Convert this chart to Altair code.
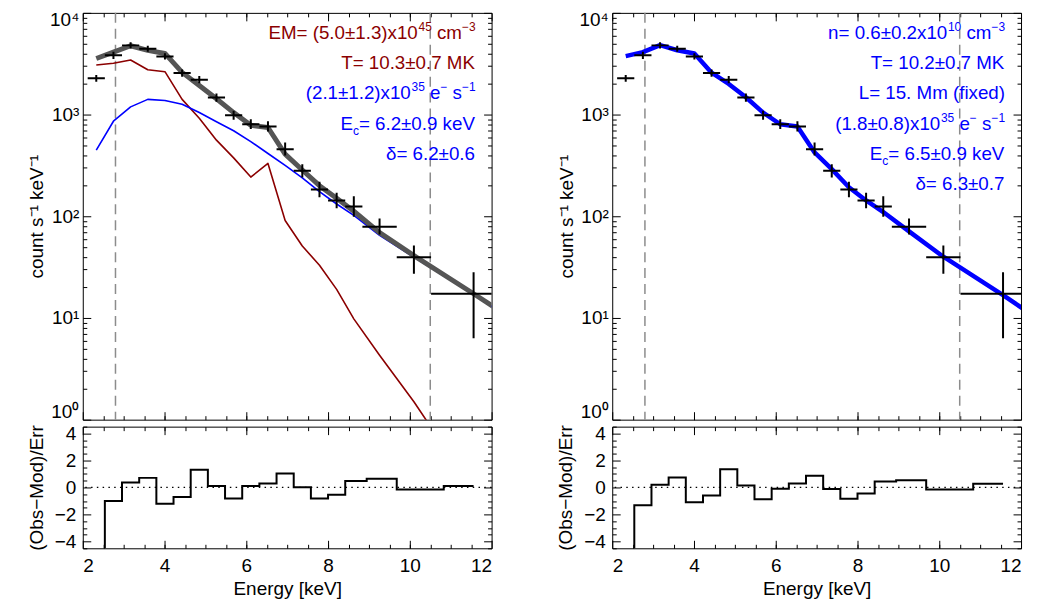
import altair as alt
import pandas as pd

# ---------------- data ----------------
energy = [2.33, 2.75, 3.17, 3.59, 4.01, 4.43, 4.85, 5.27, 5.69, 6.11, 6.53,
          6.95, 7.37, 7.79, 8.21, 8.63, 9.26, 10.10, 11.56]
e_lo = [2.12, 2.54, 2.96, 3.38, 3.80, 4.22, 4.64, 5.06, 5.48, 5.90, 6.32,
        6.74, 7.16, 7.58, 8.00, 8.42, 8.84, 9.68, 10.52]
e_hi = [2.54, 2.96, 3.38, 3.80, 4.22, 4.64, 5.06, 5.48, 5.90, 6.32, 6.74,
        7.16, 7.58, 8.00, 8.42, 8.84, 9.68, 10.52, 12.60]
counts = [2270, 3820, 4790, 4440, 3730, 2560, 2200, 1470, 985, 805, 764,
          457, 280, 183, 143, 125, 79, 39.6, 17.3]
counts_lo = [2100, 3520, 4470, 4140, 3480, 2360, 2030, 1340, 890, 720, 680,
             395, 241, 154, 120, 99, 66, 27.2, 6.3]
counts_hi = [2450, 4140, 5130, 4760, 4000, 2780, 2390, 1610, 1090, 900, 860,
             530, 325, 218, 170, 157, 95, 51.5, 28.2]

model_energy = [2.33, 2.75, 3.17, 3.59, 4.01, 4.43, 4.85, 5.27, 5.69, 6.11, 6.53,
                6.95, 7.37, 7.79, 8.21, 8.63, 9.26, 10.10, 11.56, 12.60]
left_thermal = [3070, 3190, 3440, 2760, 2640, 1410, 920, 560, 375, 243, 331,
                91, 51, 33, 19.1, 9.8, 4.3, 1.5, 0.2, 0.07]
left_nonthermal = [447, 860, 1190, 1410, 1375, 1265, 1047, 851, 693, 542, 414,
                   316, 238, 175, 132, 102, 65, 39.6, 17.0, 9.0]
left_total = [3560, 4110, 4750, 4280, 3990, 2600, 1930, 1430, 1046, 785, 746,
              408, 285, 200, 150, 112, 69, 41, 17.3, 9.2]
right_total = [3760, 4110, 4820, 4290, 3990, 2580, 2000, 1480, 1046, 803, 764,
               424, 291, 193, 143, 110, 71, 40, 16.8, 8.7]

left_resid = [-6.5, -1.0, 0.37, 0.71, -1.2, -0.71, 1.32, 0.1, -0.81, 0.1, 0.29,
              1.03, 0.02, -0.81, -0.54, 0.47, 0.64, -0.15, 0.1]
right_resid = [-6.5, -1.32, 0.2, 0.74, -1.1, -0.59, 1.35, 0.15, -0.88, -0.1, 0.29,
               0.86, -0.12, -0.83, -0.44, 0.44, 0.54, -0.15, 0.27]

fit_range = [2.8, 10.5]

x_major = [2, 4, 6, 8, 10, 12]
x_minor = [2.5, 3, 3.5, 4, 4.5, 5, 5.5, 6, 6.5, 7, 7.5, 8, 8.5, 9, 9.5, 10,
           10.5, 11, 11.5]
y_log_major = [1, 10, 100, 1000, 10000]
y_log_minor = [2, 3, 4, 5, 6, 7, 8, 9, 20, 30, 40, 50, 60, 70, 80, 90,
               200, 300, 400, 500, 600, 700, 800, 900,
               2000, 3000, 4000, 5000, 6000, 7000, 8000, 9000]
res_major = [-4, -2, 0, 2, 4]
res_minor = [-4.5, -3.5, -3, -2.5, -1.5, -1, -0.5, 0.5, 1, 1.5, 2.5, 3, 3.5, 4.5]

left_lines = [
    ("#8b0000", [("EM= (5.0±1.3)x10", "n"), ("45", "s"), (" cm", "n"), ("−3", "s")]),
    ("#8b0000", [("T= 10.3±0.7 MK", "n")]),
    ("#0000ff", [("(2.1±1.2)x10", "n"), ("35", "s"), (" e", "n"), ("−", "s"),
                 (" s", "n"), ("−1", "s")]),
    ("#0000ff", [("E", "n"), ("c", "b"), ("= 6.2±0.9 keV", "n")]),
    ("#0000ff", [("δ= 6.2±0.6", "n")]),
]
right_lines = [
    ("#0000ff", [("n= 0.6±0.2x10", "n"), ("10", "s"), (" cm", "n"), ("−3", "s")]),
    ("#0000ff", [("T= 10.2±0.7 MK", "n")]),
    ("#0000ff", [("L= 15. Mm (fixed)", "n")]),
    ("#0000ff", [("(1.8±0.8)x10", "n"), ("35", "s"), (" e", "n"), ("−", "s"),
                 (" s", "n"), ("−1", "s")]),
    ("#0000ff", [("E", "n"), ("c", "b"), ("= 6.5±0.9 keV", "n")]),
    ("#0000ff", [("δ= 6.3±0.7", "n")]),
]

# ---------------- styling / layout ----------------
FONT = "Liberation Sans"
MAIN_FS = 18.8
SUP_FS = 12
W_PANEL = 410
H_TOP = 408
H_RES = 122
TOP_PAGE_Y = 10      # page y of the top plot edge
TEXT_RIGHT = 394
BASE0 = 36 - TOP_PAGE_Y
LINE_DY = 30.4

ARIAL_W = {' ': 278, '(': 333, ')': 333, '.': 278, '=': 584, '±': 584, 'x': 500,
           'c': 500, 'm': 833, 'e': 556, 's': 500, '−': 584, 'E': 667, 'M': 833,
           'K': 667, 'T': 611, 'k': 500, 'V': 667, 'n': 556, 'L': 556, 'f': 278,
           'i': 222, 'd': 556, 'δ': 556}


def tw(s, fs):
    return sum(ARIAL_W.get(ch, 556) for ch in s) * fs / 1000.0


def text_frame(lines):
    rows = []
    for i, (col, segs) in enumerate(lines):
        sizes = [MAIN_FS if k == "n" else SUP_FS for _, k in segs]
        widths = [tw(t, fs) for (t, _), fs in zip(segs, sizes)]
        x = TEXT_RIGHT - sum(widths)
        base = BASE0 + i * LINE_DY
        for (t, k), fs, w in zip(segs, sizes, widths):
            lead = len(t) - len(t.lstrip(" "))
            xx = x + tw(" " * lead, fs)
            yy = base - 8 if k == "s" else (base + 5 if k == "b" else base)
            rows.append(dict(t=t.strip(" "), px=xx, py=yy, fs=fs, col=col))
            x += w
    return pd.DataFrame(rows)


x_scale = alt.Scale(domain=[2, 12], nice=False, zero=False)
y_log = alt.Scale(type="log", domain=[1, 10000], nice=False)
y_res = alt.Scale(domain=[-4.5, 4.5], nice=False, zero=False)


def ax(orient, values, size, **kw):
    d = dict(orient=orient, values=values, tickSize=size, offset=-size,
             domain=False, grid=False, ticks=True, tickColor="black",
             tickWidth=1, labels=False, title="")
    d.update(kw)
    return alt.Axis(**d)


def axis_layers(yscale, ydomain, xaxes, yaxes):
    df = pd.DataFrame({"x": [2, 12], "y": ydomain})
    layers = []
    for xa, ya in zip(xaxes, yaxes):
        layers.append(
            alt.Chart(df).mark_point(opacity=0).encode(
                x=alt.X("x:Q", scale=x_scale, axis=xa),
                y=alt.Y("y:Q", scale=yscale, axis=ya),
            )
        )
    return layers


LOG_LABEL = "'10' + ['⁰','¹','²','³','⁴'][round(log(datum.value)/LN10)]"


def top_chart(models, lines):
    data = pd.DataFrame({"e": energy, "lo": e_lo, "hi": e_hi, "c": counts,
                         "clo": counts_lo, "chi": counts_hi})
    mdf = pd.DataFrame({"e": model_energy})
    layers = []
    layers.append(
        alt.Chart(pd.DataFrame({"e": fit_range})).mark_rule(
            color="#8c8c8c", strokeDash=[10, 6], strokeWidth=1.5
        ).encode(x=alt.X("e:Q", scale=x_scale, axis=None))
    )
    for vals, color, width in models:
        d = mdf.assign(v=vals)
        layers.append(
            alt.Chart(d).mark_line(color=color, strokeWidth=width, clip=True,
                                   strokeJoin="round").encode(
                x=alt.X("e:Q", scale=x_scale, axis=None),
                y=alt.Y("v:Q", scale=y_log, axis=None),
            )
        )
    layers.append(
        alt.Chart(data).mark_rule(color="black", strokeWidth=2, clip=True).encode(
            x=alt.X("lo:Q", scale=x_scale, axis=None), x2="hi:Q",
            y=alt.Y("c:Q", scale=y_log, axis=None),
        )
    )
    layers.append(
        alt.Chart(data).mark_rule(color="black", strokeWidth=2, clip=True).encode(
            x=alt.X("e:Q", scale=x_scale, axis=None),
            y=alt.Y("clo:Q", scale=y_log, axis=None), y2="chi:Q",
        )
    )
    layers.append(
        alt.Chart(text_frame(lines)).mark_text(align="left", baseline="alphabetic",
                                               font=FONT).encode(
            x=alt.X("px:Q", scale=None, axis=None),
            y=alt.Y("py:Q", scale=None, axis=None),
            text="t:N",
            color=alt.Color("col:N", scale=None),
            size=alt.Size("fs:Q", scale=None),
        )
    )
    xaxes = [ax("bottom", x_major, 8), ax("bottom", x_minor, 4),
             ax("top", x_major, 8), ax("top", x_minor, 4)]
    yaxes = [ax("left", y_log_major, 8, labels=True, labelExpr=LOG_LABEL,
                labelPadding=4, labelFlush=True, labelFlushOffset=2,
                title="count s⁻¹ keV⁻¹", titlePadding=3),
             ax("left", y_log_minor, 4), ax("right", y_log_major, 8),
             ax("right", y_log_minor, 4)]
    layers += axis_layers(y_log, [1, 10000], xaxes, yaxes)
    return alt.layer(*layers).resolve_axis(x="independent", y="independent").properties(
        width=W_PANEL, height=H_TOP)


def res_chart(resid):
    d = pd.DataFrame({"e": energy, "r": resid})
    layers = [
        alt.Chart(pd.DataFrame({"z": [0]})).mark_rule(
            color="black", strokeDash=[1.5, 4.3], strokeWidth=1.2
        ).encode(y=alt.Y("z:Q", scale=y_res, axis=None)),
        alt.Chart(d).mark_line(interpolate="step", clip=True, color="black",
                               strokeWidth=2).encode(
            x=alt.X("e:Q", scale=x_scale, axis=None),
            y=alt.Y("r:Q", scale=y_res, axis=None),
        ),
    ]
    xaxes = [ax("bottom", x_major, 8, labels=True, labelPadding=8,
                title="Energy [keV]", titlePadding=4),
             ax("bottom", x_minor, 4), ax("top", x_major, 8), ax("top", x_minor, 4)]
    yaxes = [ax("left", res_major, 8, labels=True, labelPadding=7,
                title="(Obs−Mod)/Err", titlePadding=8),
             ax("left", res_minor, 4), ax("right", res_major, 8),
             ax("right", res_minor, 4)]
    layers += axis_layers(y_res, [-4.5, 4.5], xaxes, yaxes)
    return alt.layer(*layers).resolve_axis(x="independent", y="independent").properties(
        width=W_PANEL, height=H_RES)


top_left = top_chart([(left_thermal, "#8b0000", 1.6), (left_nonthermal, "#0000ff", 1.6),
                      (left_total, "#555555", 5)], left_lines)
top_right = top_chart([(right_total, "#0000ff", 4.5)], right_lines)

chart = alt.concat(
    top_left, top_right, res_chart(left_resid), res_chart(right_resid),
    columns=2, spacing={"row": 7, "column": 121}, bounds="flush"
).configure_view(
    stroke="black", strokeWidth=1
).configure_axis(
    labelFont=FONT, titleFont=FONT, labelFontSize=19, titleFontSize=19,
    titleFontWeight="normal", labelColor="black", titleColor="black"
).properties(padding={"left": 18, "top": 0, "right": 5, "bottom": 5})

chart.save("out.html", embed_options={"renderer": "svg", "actions": False})
